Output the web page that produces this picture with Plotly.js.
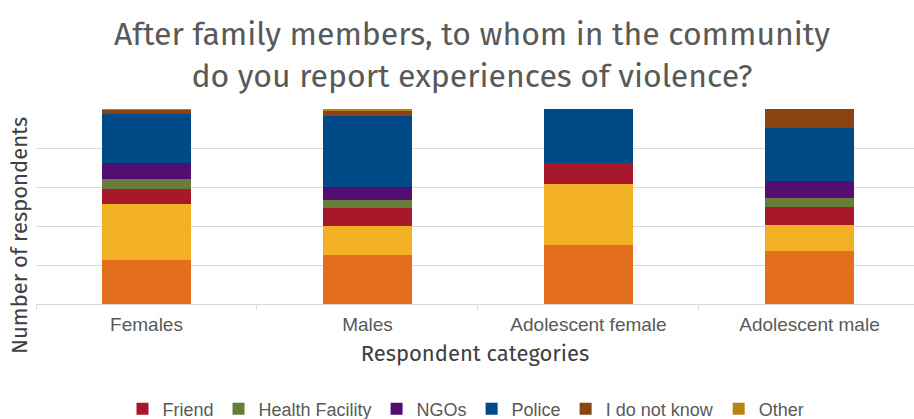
<!DOCTYPE html>
<html>
<head>
<meta charset="utf-8">
<script src="https://cdn.plot.ly/plotly-3.0.1.min.js"></script>
<style>html,body{margin:0;padding:0;background:#fff;}#chart{width:914px;height:419px;}</style>
</head>
<body>
<div id="chart"></div>
<script>
const categories = ["Females", "Males", "Adolescent female", "Adolescent male"];
const seriesNames = ["Religious leader", "Community leader", "Friend", "Health Facility", "NGOs", "Police", "I do not know", "Other"];
const leaderRel = [22.7, 25.3, 30.4, 27.0];
const leaderCom = [28.5, 14.6, 31.3, 13.6];
const friend = [7.6, 9.1, 10.7, 9.1];
const healthFacility = [5.2, 4.3, 0, 4.5];
const ngos = [8.4, 6.5, 0, 9.1];
const police = [25.1, 36.4, 27.6, 27.1];
const doNotKnow = [1.9, 2.9, 0, 9.6];
const other = [0.6, 0.9, 0, 0];
const colors = ["#E36F1E", "#F2B125", "#A8182B", "#687D3B", "#530E72", "#004A87", "#8A4413", "#B5860F"];
const showInLegend = [false, false, true, true, true, true, true, true];

const values = [leaderRel, leaderCom, friend, healthFacility, ngos, police, doNotKnow, other];
const traces = values.map((v, i) => ({
  type: "bar",
  name: seriesNames[i],
  x: categories,
  y: v,
  marker: {color: colors[i]},
  showlegend: showInLegend[i],
  hoverinfo: "x+y+name"
}));

const layout = {
  width: 914,
  height: 419,
  margin: {l: 36, r: 0, t: 109, b: 115},
  paper_bgcolor: "#fff",
  plot_bgcolor: "#fff",
  barmode: "stack",
  bargap: 0.6,
  title: {
    text: "After family members, to whom in the community<br>do you report experiences of violence?",
    font: {family: "Fira Sans, Noto Sans, sans-serif", size: 32, color: "#595959"},
    x: 472 / 914, xref: "container", xanchor: "center",
    y: 1 - 45 / 419, yref: "container", yanchor: "top"
  },
  xaxis: {
    type: "category",
    range: [-0.5, 3.473],
    showline: true, linecolor: "#d9d9d9", linewidth: 1,
    ticks: "outside", tickson: "boundaries", ticklen: 5, tickcolor: "#d9d9d9",
    ticklabelstandoff: 3,
    tickfont: {family: "Liberation Sans, Arial, sans-serif", size: 19, color: "#595959"},
    showgrid: false,
    title: {text: "Respondent categories", font: {family: "Fira Sans, Noto Sans, sans-serif", size: 22, color: "#404040"}, standoff: 11}
  },
  yaxis: {
    range: [0, 100], dtick: 20,
    showticklabels: false, ticks: "",
    gridcolor: "#d9d9d9", gridwidth: 1,
    zeroline: false, showline: false
  },
  annotations: [{
    text: "Number of respondents",
    textangle: -90,
    xref: "paper", yref: "paper",
    x: (19 - 36) / 878, y: (304 - 236) / 195,
    xanchor: "center", yanchor: "middle",
    showarrow: false,
    font: {family: "Fira Sans, Noto Sans, sans-serif", size: 22, color: "#404040"}
  }],
  legend: {
    orientation: "h",
    traceorder: "normal",
    xref: "container", yref: "container",
    x: 466 / 914, xanchor: "center",
    y: 10 / 419, yanchor: "middle",
    font: {family: "Liberation Sans, Arial, sans-serif", size: 18, color: "#595959"}
  },
  showlegend: true
};

Plotly.newPlot("chart", traces, layout, {displayModeBar: false, staticPlot: true});
</script>
</body>
</html>
